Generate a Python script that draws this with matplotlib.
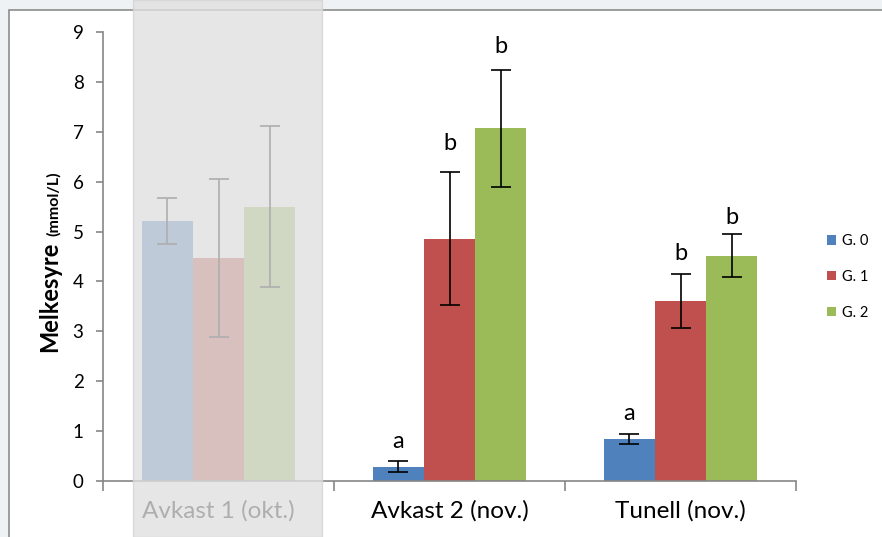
import numpy as np
import matplotlib.pyplot as plt
from matplotlib.patches import Rectangle

plt.rcParams['font.family'] = ['Lato', 'DejaVu Sans']

# data
categories = ['Avkast 1 (okt.)', 'Avkast 2 (nov.)', 'Tunell (nov.)']
groups = ['G. 0', 'G. 1', 'G. 2']
means = {
    'G. 0': [5.21, 0.29, 0.84],
    'G. 1': [4.47, 4.86, 3.61],
    'G. 2': [5.50, 7.07, 4.52],
}
errors = {
    'G. 0': [0.46, 0.11, 0.105],
    'G. 1': [1.59, 1.34, 0.54],
    'G. 2': [1.61, 1.17, 0.43],
}
# significance letters (text, y position) per group and category
letters = {
    'G. 0': [None, ('a', 0.80), ('a', 1.36)],
    'G. 1': [None, ('b', 6.77), ('b', 4.57)],
    'G. 2': [None, ('b', 8.70), ('b', 5.29)],
}
colors = ['#4f81bd', '#c0504d', '#9bbb59']

fig = plt.figure(figsize=(8.82, 5.37), dpi=100)
fig.patch.set_facecolor('#eef2f5')
# chart frame
fig.patches.append(Rectangle((9 / 882, -0.1), 1.0, 1 - 10 / 537 + 0.1,
                             transform=fig.transFigure, facecolor='white',
                             edgecolor='#8c8c8c', linewidth=1.2, zorder=-5))

ax = fig.add_axes([103 / 882, 1 - 481 / 537, (796 - 103) / 882, (481 - 32) / 537])
ax.set_zorder(1)
ax.patch.set_alpha(0)

x = np.arange(len(categories))
w = 0.222
for i, g in enumerate(groups):
    pos = x + (i - 1) * w
    ax.bar(pos, means[g], width=w, color=colors[i], label=g, zorder=2)
    ax.errorbar(pos, means[g], yerr=errors[g], fmt='none', ecolor='black',
                elinewidth=1.2, capsize=7, capthick=1.2, zorder=3)
    for p, lab in zip(pos, letters[g]):
        if lab is not None:
            ax.text(p, lab[1], lab[0], ha='center', va='center', fontsize=17)

ax.set_xlim(-0.5, 2.5)
ax.set_ylim(0, 9)
ax.set_yticks(range(10))
ax.set_xticks(x)
ax.set_xticklabels(categories, fontsize=17.5)
ax.set_xticks([-0.5, 0.5, 1.5, 2.5], minor=True)
ax.tick_params(axis='x', which='major', length=0, pad=14)
ax.tick_params(axis='x', which='minor', length=7, color='#868686', width=1.2)
ax.tick_params(axis='y', length=5, color='#868686', width=1.2, labelsize=13.5, pad=9)
for s in ['top', 'right']:
    ax.spines[s].set_visible(False)
for s in ['left', 'bottom']:
    ax.spines[s].set_color('#868686')
    ax.spines[s].set_linewidth(1.2)

fig.text(50 / 882, 1 - 297 / 537, 'Melkesyre', rotation=90, ha='center', va='center',
         fontsize=17, fontweight='bold')
fig.text(54 / 882, 1 - 204 / 537, '(mmol/L)', rotation=90, ha='center', va='center',
         fontsize=11.5, fontweight='bold')

fig.legend(loc='center left', bbox_to_anchor=(814 / 882, 1 - 277 / 537), frameon=False,
           fontsize=10.5, handlelength=0.6, handleheight=0.6, handletextpad=0.4,
           labelspacing=1.5)

# grey overlay on the first category
fig.patches.append(Rectangle((133 / 882, 0), (322 - 133) / 882, 1,
                             transform=fig.transFigure, facecolor='#e0e0e0',
                             edgecolor='#d4d4d4', alpha=0.78, zorder=10))

fig.savefig('out.png', dpi=100)
